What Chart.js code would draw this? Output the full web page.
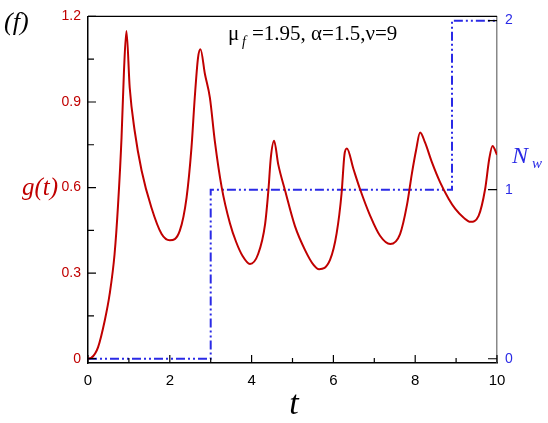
<!DOCTYPE html>
<html>
<head>
<meta charset="utf-8">
<script src="https://cdn.jsdelivr.net/npm/chart.js@4/dist/chart.umd.min.js"></script>
<style>
html,body{margin:0;padding:0;background:#fff;}
#wrap{width:548px;height:423px;position:relative;}
</style>
</head>
<body>
<div id="wrap"><canvas id="c" width="548" height="423"></canvas></div>
<script>
// g(t) curve
const tValues = [0, 0.08, 0.245, 0.41, 0.53, 0.65, 0.735, 0.82, 0.88, 0.94, 1.02, 1.14, 1.31, 1.55, 1.80, 2.0, 2.245, 2.41, 2.53, 2.61, 2.69, 2.75, 2.86, 2.98, 3.10, 3.27, 3.47, 3.62, 3.78, 3.96, 4.16, 4.33, 4.41, 4.47, 4.55, 4.65, 4.82, 5.06, 5.31, 5.51, 5.65, 5.92, 6.08, 6.20, 6.27, 6.33, 6.49, 6.65, 6.90, 7.14, 7.39, 7.63, 7.80, 7.92, 8.02, 8.12, 8.24, 8.41, 8.61, 8.82, 8.98, 9.18, 9.35, 9.55, 9.71, 9.81, 9.89, 10.0];
const gValues = [0, 0.003, 0.04, 0.134, 0.227, 0.367, 0.54, 0.775, 1.01, 1.149, 0.95, 0.80, 0.66, 0.53, 0.437, 0.415, 0.449, 0.565, 0.74, 0.915, 1.055, 1.085, 0.997, 0.915, 0.764, 0.60, 0.475, 0.41, 0.36, 0.332, 0.367, 0.472, 0.589, 0.705, 0.764, 0.682, 0.589, 0.465, 0.38, 0.33, 0.314, 0.347, 0.44, 0.58, 0.715, 0.737, 0.665, 0.595, 0.501, 0.431, 0.402, 0.437, 0.54, 0.65, 0.73, 0.793, 0.758, 0.688, 0.618, 0.56, 0.525, 0.495, 0.48, 0.501, 0.595, 0.70, 0.746, 0.715];
// N_w step
const stepT = [0, 3.0, 8.9, 10];
const stepN = [0, 1, 2, 2];
// ticks
const xTicks = [0, 2, 4, 6, 8, 10];
const xMinor = [1, 3, 5, 7, 9];
const gTicks = [0, 0.3, 0.6, 0.9, 1.2];
const gMinor = [0.15, 0.45, 0.75, 1.05];
const nTicks = [0, 1, 2];

const RED = '#c00000';
const BLUE = '#2a2ae6';

const inwardTicks = {
  id: 'inwardTicks',
  afterDatasetsDraw(chart) {
    const {ctx, chartArea: a, scales} = chart;
    ctx.save();
    ctx.strokeStyle = '#000';
    ctx.lineWidth = 1.2;
    // top frame
    ctx.beginPath(); ctx.moveTo(a.left, a.top); ctx.lineTo(a.right, a.top); ctx.stroke();
    const x = scales.x, y = scales.y, y2 = scales.y2;
    ctx.beginPath();
    xTicks.forEach(v => { const px = x.getPixelForValue(v); ctx.moveTo(px, a.bottom); ctx.lineTo(px, a.bottom - 8); });
    xMinor.forEach(v => { const px = x.getPixelForValue(v); ctx.moveTo(px, a.bottom); ctx.lineTo(px, a.bottom - 5); });
    gTicks.forEach(v => { const py = y.getPixelForValue(v); ctx.moveTo(a.left, py); ctx.lineTo(a.left + 8, py); });
    gMinor.forEach(v => { const py = y.getPixelForValue(v); ctx.moveTo(a.left, py); ctx.lineTo(a.left + 6, py); });
    nTicks.forEach(v => { const py = y2.getPixelForValue(v); ctx.moveTo(a.right, py); ctx.lineTo(a.right - 9, py); });
    ctx.stroke();
    ctx.restore();
  },
  afterDraw(chart) {
    const {ctx} = chart;
    ctx.save();
    ctx.textBaseline = 'alphabetic';
    // (f)
    ctx.fillStyle = '#000';
    ctx.font = 'italic 26px "Liberation Serif"';
    ctx.fillText('(f)', 4, 30);
    // g(t)
    ctx.fillStyle = RED;
    ctx.font = 'italic 25px "Liberation Serif"';
    ctx.fillText('g(t)', 22, 195);
    // N_w
    ctx.fillStyle = BLUE;
    ctx.font = 'italic 24px "Liberation Serif"';
    ctx.fillText('N', 512, 163);
    ctx.font = 'italic 15px "Liberation Serif"';
    ctx.fillText('w', 532, 168);
    // t
    ctx.fillStyle = '#000';
    ctx.font = 'italic 34px "Liberation Serif"';
    ctx.textAlign = 'center';
    ctx.fillText('t', 294, 414);
    ctx.textAlign = 'left';
    // annotation
    ctx.font = '21px "Liberation Serif"';
    ctx.fillText('\u03bc', 228, 40);
    ctx.font = 'italic 14px "Liberation Serif"';
    ctx.fillText('f', 242, 46);
    ctx.font = '21px "Liberation Serif"';
    ctx.fillText('=1.95, \u03b1=1.5,\u03bd=9', 252, 40);
    ctx.restore();
  }
};

new Chart(document.getElementById('c'), {
  type: 'line',
  data: {
    datasets: [
      {
        data: tValues.map((t, i) => ({x: t, y: gValues[i]})),
        borderColor: RED, borderWidth: 2, pointRadius: 0,
        cubicInterpolationMode: 'monotone', xAxisID: 'x', yAxisID: 'y'
      },
      {
        data: stepT.map((t, i) => ({x: t, y: stepN[i]})),
        borderColor: BLUE, borderWidth: 2, pointRadius: 0, stepped: true,
        borderDash: [9, 3, 2, 3, 2, 3], xAxisID: 'x', yAxisID: 'y2'
      }
    ]
  },
  options: {
    responsive: false, animation: false,
    layout: {padding: {top: 15, left: 0, right: 0, bottom: 0}},
    plugins: {legend: {display: false}, tooltip: {enabled: false}},
    scales: {
      x: {
        type: 'linear', min: 0, max: 10,
        afterFit(s) { s.height = 60; },
        afterBuildTicks(s) { s.ticks = xTicks.map(v => ({value: v})); },
        grid: {drawOnChartArea: false, drawTicks: false},
        border: {color: '#000', width: 1.5},
        ticks: {color: '#000', font: {family: 'Liberation Sans', size: 15}, padding: 9, maxRotation: 0}
      },
      y: {
        type: 'linear', position: 'left', min: -0.015, max: 1.2,
        afterFit(s) { s.width = 88; },
        afterBuildTicks(s) { s.ticks = gTicks.map(v => ({value: v})); },
        grid: {drawOnChartArea: false, drawTicks: false},
        border: {color: '#000', width: 1.5},
        ticks: {color: RED, font: {family: 'Liberation Sans', size: 14}, padding: 7, callback: v => String(v)}
      },
      y2: {
        type: 'linear', position: 'right', min: -0.025, max: 2.025,
        afterFit(s) { s.width = 51; },
        afterBuildTicks(s) { s.ticks = nTicks.map(v => ({value: v})); },
        grid: {drawOnChartArea: false, drawTicks: false},
        border: {color: '#888', width: 1.5},
        ticks: {color: BLUE, font: {family: 'Liberation Sans', size: 14}, padding: 8}
      }
    }
  },
  plugins: [inwardTicks]
});
</script>
</body>
</html>
